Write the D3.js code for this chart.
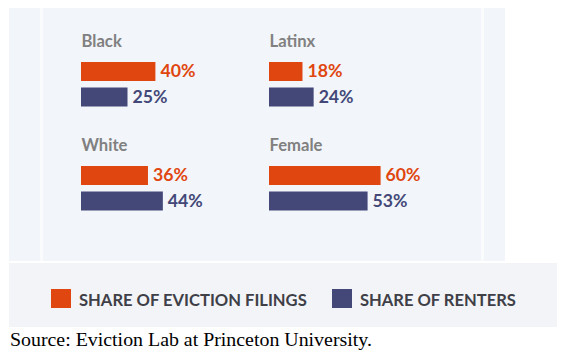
<!DOCTYPE html>
<html><head><meta charset="utf-8">
<script src="https://cdn.jsdelivr.net/npm/d3@7"></script>
<style>html,body{margin:0;padding:0;background:#fff;}svg{display:block;}</style>
</head><body>
<script>
const groups = ["Black", "Latinx", "White", "Female"];
const filings = [40, 18, 36, 60];
const renters = [25, 24, 44, 53];
const seriesNames = ["SHARE OF EVICTION FILINGS", "SHARE OF RENTERS"];
const source = "Source: Eviction Lab at Princeton University.";

const W = 563, H = 360;
const orange = "#e0460f", navy = "#434878";
const svg = d3.select("body").append("svg").attr("width", W).attr("height", H);

// panels
svg.append("rect").attr("x", 9).attr("y", 8).attr("width", 496).attr("height", 253).attr("fill", "#f2f5f9");
svg.append("rect").attr("x", 40).attr("y", 8).attr("width", 3).attr("height", 253).attr("fill", "#fafbfd");
svg.append("rect").attr("x", 481).attr("y", 8).attr("width", 3).attr("height", 253).attr("fill", "#fafbfd");
svg.append("rect").attr("x", 9).attr("y", 263).attr("width", 548).attr("height", 64).attr("fill", "#f2f4f8");

const font = "Lato, 'Open Sans', sans-serif";
function sizeFor(str, base, target, weight) {
  const t = svg.append("text").text(str).attr("font-family", font).attr("font-weight", weight).attr("font-size", base);
  const w = t.node().getComputedTextLength();
  t.remove();
  return base * target / w;
}
function fit(sel, target) {
  const w = sel.node().getComputedTextLength();
  const fs = parseFloat(sel.attr("font-size"));
  sel.attr("font-size", fs * target / w);
}

const titleSize = sizeFor("Female", 15, 53, 700);
const labelSize = sizeFor("40%", 16, 35, 700);

const x = d3.scaleLinear().domain([0, 100]).range([0, 186]);
const col = d3.scaleOrdinal().domain([0, 1]).range([81, 269]);
const row = d3.scaleOrdinal().domain([0, 1]).range([0, 104]);
const inner = d3.scaleBand().domain(["f", "r"]).range([62, 106.5]).paddingInner(0.255);

const data = groups.map((g, i) => ({ g, i, f: filings[i], r: renters[i] }));
const cell = svg.selectAll("g.cell").data(data).join("g")
  .attr("transform", d => `translate(${col(d.i % 2)},${row(Math.floor(d.i / 2))})`);

cell.append("text").attr("x", 0.5).attr("y", 47).text(d => d.g)
  .attr("font-family", font).attr("font-weight", 700).attr("font-size", titleSize).attr("fill", "#808080");

["f", "r"].forEach((k, j) => {
  const c = j === 0 ? orange : navy;
  cell.append("rect").attr("x", 0).attr("y", inner(k))
    .attr("width", d => x(d[k])).attr("height", inner.bandwidth()).attr("fill", c);
  cell.append("text").attr("class", "lab")
    .attr("x", d => x(d[k]) + 5).attr("y", inner(k) + inner.bandwidth() / 2 + 6)
    .text(d => d[k] + "%")
    .attr("font-family", font).attr("font-weight", 700).attr("font-size", labelSize).attr("fill", c);
});

// legend
const lx = [51, 332];
seriesNames.forEach((s, j) => {
  svg.append("rect").attr("x", lx[j]).attr("y", 289).attr("width", 20).attr("height", 19)
    .attr("fill", j === 0 ? orange : navy);
  const t = svg.append("text").attr("x", lx[j] + 28).attr("y", 306).text(s)
    .attr("font-family", font).attr("font-weight", 700).attr("font-size", 17).attr("fill", "#3f3f47");
  fit(t, j === 0 ? 228 : 156);
});

const st = svg.append("text").attr("x", 10).attr("y", 346).text(source)
  .attr("font-family", "'Liberation Serif', 'Times New Roman', serif").attr("font-size", 19).attr("fill", "#000");
fit(st, 362);
</script>
</body></html>
